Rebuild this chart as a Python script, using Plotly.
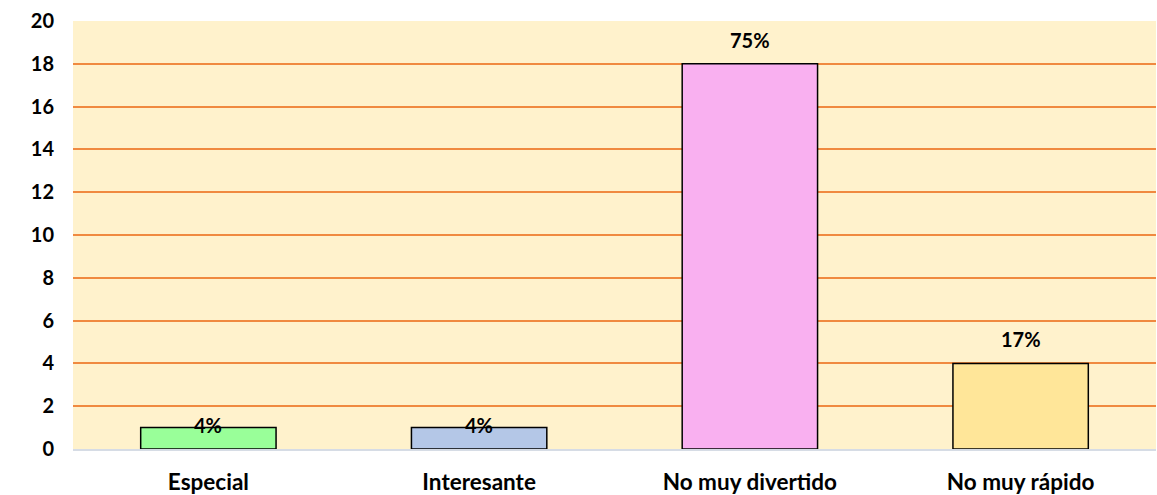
import plotly.graph_objects as go

categories = ["Especial", "Interesante", "No muy divertido", "No muy rápido"]
counts = [1, 1, 18, 4]
pct_labels = ["4%", "4%", "75%", "17%"]
bar_colors = ["#99FF99", "#B4C7E7", "#F9B0F0", "#FFE699"]

fig = go.Figure(go.Bar(
    x=categories, y=counts,
    marker=dict(color=bar_colors, line=dict(color="black", width=1.5)),
    width=0.5,
))

# percentage labels above bars (small bars get the label sitting on the edge, like the original)
for c, v, t in zip(categories, counts, pct_labels):
    fig.add_annotation(x=c, y=v, text=t, showarrow=False, yanchor="middle",
                       yshift=3 if v < 2 else 24,
                       font=dict(family="Lato", size=20, color="black", weight="bold"))

fig.update_layout(
    width=1157, height=495,
    margin=dict(l=73, r=1, t=21, b=46),
    paper_bgcolor="white", plot_bgcolor="#FFF2CC",
    showlegend=False,
    font=dict(family="Lato", color="black"),
)
fig.update_xaxes(
    tickfont=dict(size=22.5, weight="bold"), ticklabelstandoff=12, automargin=False,
    showline=True, linecolor="#D6DCE5", linewidth=2, ticks="",
)
fig.update_yaxes(
    range=[0, 20], dtick=2, tickfont=dict(size=20, weight="bold"),
    ticklabelstandoff=18, automargin=False,
    gridcolor="#F08A40", gridwidth=1.5, zeroline=False,
)

# drop the default page margin so the figure fills the window
fig.write_html("out.html", config={"displayModeBar": False},
               post_script="document.body.style.margin='0';")
